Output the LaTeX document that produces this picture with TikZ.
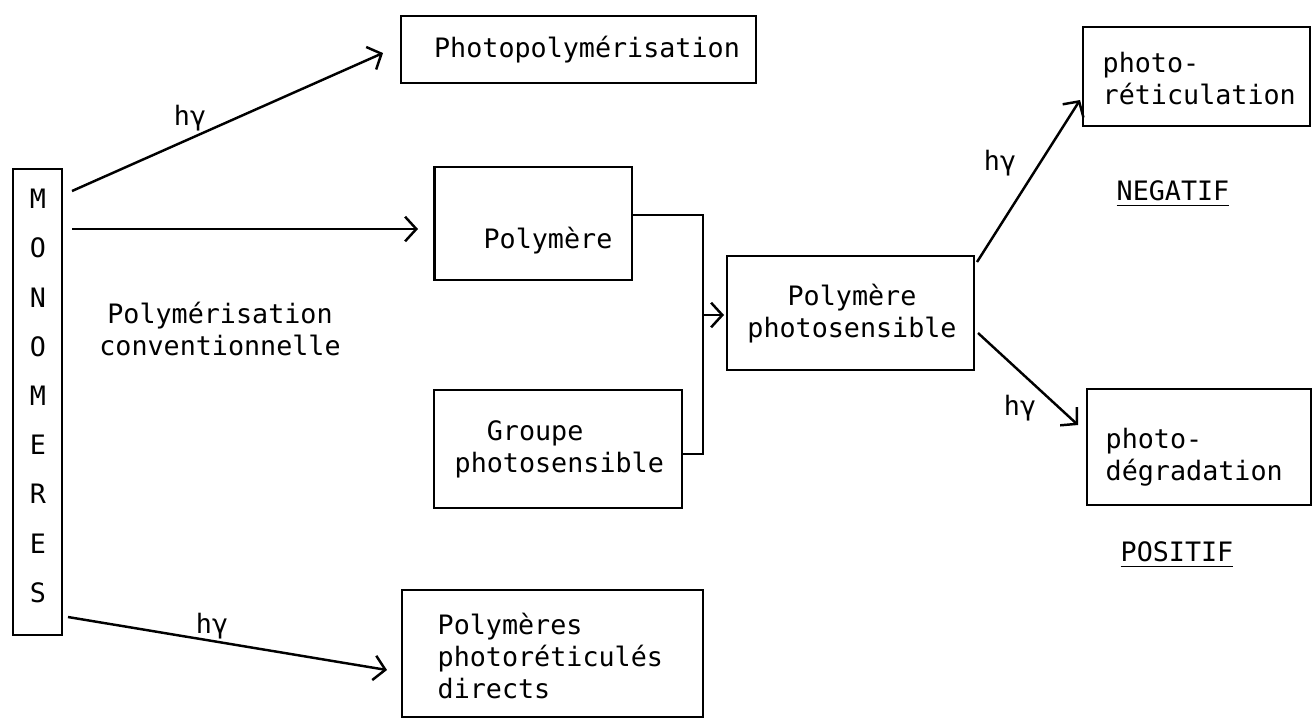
\documentclass[tikz,border=0pt]{standalone}
\usepackage{fontspec}
\setmainfont{DejaVu Sans Mono}
\usetikzlibrary{arrows.meta}
\begin{document}
\begin{tikzpicture}[x=0.01cm,y=-0.01cm,
  every node/.style={font=\fontsize{7.6}{9.1}\selectfont, inner sep=0pt},
  box/.style={draw, line width=0.6pt, inner sep=0pt},
  txt/.style={align=left, anchor=west},
  ctxt/.style={align=center},
  conn/.style={line width=0.7pt},
  arr/.style={conn, -{Straight Barb[length=3.2pt,width=7pt,line width=0.7pt]}},
  lab/.style={}]
\useasboundingbox (0,0) rectangle (1312,720);

% boxes
\node[box, minimum width=0.49cm, minimum height=4.66cm] (mono) at (37.5,402) {};
\node[box, minimum width=3.55cm, minimum height=0.67cm] (photo) at (578.5,49.5) {};
\node[box, minimum width=1.97cm, minimum height=1.13cm] (poly) at (533,223.5) {};
\node[box, minimum width=2.48cm, minimum height=1.18cm] (grp) at (558,449) {};
\node[box, minimum width=2.47cm, minimum height=1.14cm] (pps) at (850.5,313) {};
\node[box, minimum width=2.27cm, minimum height=0.99cm] (ret) at (1196.5,76.5) {};
\node[box, minimum width=2.24cm, minimum height=1.16cm] (deg) at (1199,447) {};
\node[box, minimum width=3.01cm, minimum height=1.27cm] (dir) at (552.5,653.5) {};

% MONOMERES letters
\foreach \l [count=\i from 0] in {M,O,N,O,M,E,R,E,S}
  \node (m\i) at (38,{199+49.2*\i}) {\l};

% texts
\node (tphoto) at (587,50) {Photopolymérisation};
\node (tpoly) at (548,241) {Polymère};
\node[txt] (tgrp) at (454,449.5) {\ \ Groupe\\photosensible};
\node[ctxt] (tpps) at (852,313.5) {Polymère\\photosensible};
\node[txt] (tret) at (1102,79) {photo-\\réticulation};
\node[txt] (tdeg) at (1105,457) {photo-\\dégradation};
\node[txt] (tdir) at (437,655.5) {Polymères\\photoréticulés\\directs};
\node[ctxt] (tconv) at (220,329) {Polymérisation\\conventionnelle};
\node (neg) at (1173,194) {\underline{NEGATIF}};
\node (pos) at (1177,555) {\underline{POSITIF}};

% hv labels
\node (h1) at (190,118) {hγ};
\node (h2) at (1000,163) {hγ};
\node (h3) at (1020,408) {hγ};
\node (h4) at (212,626) {hγ};

% connectors
\coordinate (a1s) at (72,191);
\coordinate (a1e) at (383,53);
\coordinate (a2s) at (72,229);
\coordinate (a2e) at (418,229);
\coordinate (a3s) at (68,617);
\coordinate (a3e) at (387,670);
\draw[arr] (a1s) -- (a1e);
\draw[arr] (a2s) -- (a2e);
\draw[arr] (a3s) -- (a3e);

\coordinate (jt) at (703,215);
\coordinate (jb) at (703,454);
\coordinate (jm) at (703,315);
\coordinate (jme) at (724,315);
\draw[conn] (poly.east |- jt) -- (jt) -- (jb) -- (grp.east |- jb);
\draw[arr] (jm) -- (jme);

\coordinate (b1s) at (977,262);
\coordinate (b1e) at (1080,100);
\coordinate (b2s) at (978,333);
\coordinate (b2e) at (1078,425);
\draw[arr] (b1s) -- (b1e);
\draw[arr] (b2s) -- (b2e);
\end{tikzpicture}
\end{document}
